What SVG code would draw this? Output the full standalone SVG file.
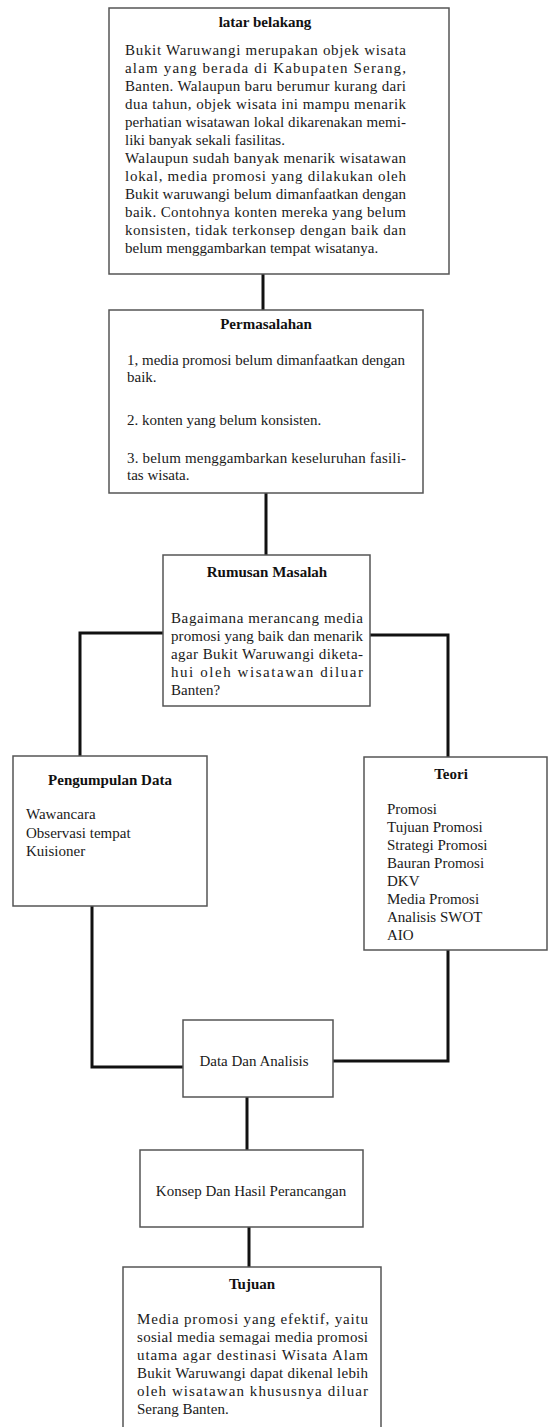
<svg xmlns="http://www.w3.org/2000/svg" width="548" height="1427" viewBox="0 0 548 1427">
<style>
.box{fill:#fff;stroke:#555;stroke-width:1.5}
.conn{fill:none;stroke:#111;stroke-width:3;stroke-linejoin:miter}
.t{font-family:"Liberation Serif","Times New Roman",serif;font-size:15px;fill:#1a1a1a}
.h{font-family:"Liberation Serif","Times New Roman",serif;font-size:15px;font-weight:bold;fill:#111;text-anchor:middle}
.c{text-anchor:middle}
</style>
<rect width="548" height="1427" fill="#fff"/>
<g id="connectors">
<path class="conn" d="M263,274 V310"/>
<path class="conn" d="M266,493 V555"/>
<path class="conn" d="M163,633 H80 V756"/>
<path class="conn" d="M370,635 H448 V757"/>
<path class="conn" d="M92,906 V1067 H183"/>
<path class="conn" d="M448,950 V1061 H333"/>
<path class="conn" d="M247,1097 V1150"/>
<path class="conn" d="M249,1227 V1267"/>
</g>
<g id="latar-belakang">
<rect class="box" x="109" y="8" width="340" height="266"/>
<text class="h" x="265" y="27">latar belakang</text>
<g class="t">
<text x="125" y="55" textLength="281" lengthAdjust="spacing">Bukit Waruwangi merupakan objek wisata</text>
<text x="125" y="73" textLength="281" lengthAdjust="spacing">alam yang berada di Kabupaten Serang,</text>
<text x="125" y="91" textLength="281" lengthAdjust="spacing">Banten. Walaupun baru berumur kurang dari</text>
<text x="125" y="109" textLength="281" lengthAdjust="spacing">dua tahun, objek wisata ini mampu menarik</text>
<text x="125" y="127" textLength="281" lengthAdjust="spacing">perhatian wisatawan lokal dikarenakan memi-</text>
<text x="125" y="145">liki banyak sekali fasilitas.</text>
<text x="125" y="163" textLength="281" lengthAdjust="spacing">Walaupun sudah banyak menarik wisatawan</text>
<text x="125" y="181" textLength="281" lengthAdjust="spacing">lokal, media promosi yang dilakukan oleh</text>
<text x="125" y="199" textLength="281" lengthAdjust="spacing">Bukit waruwangi belum dimanfaatkan dengan</text>
<text x="125" y="217" textLength="281" lengthAdjust="spacing">baik. Contohnya konten mereka yang belum</text>
<text x="125" y="235" textLength="281" lengthAdjust="spacing">konsisten, tidak terkonsep dengan baik dan</text>
<text x="125" y="253">belum menggambarkan tempat wisatanya.</text>
</g>
</g>
<g id="permasalahan">
<rect class="box" x="109" y="310" width="314" height="183"/>
<text class="h" x="266" y="329">Permasalahan</text>
<g class="t">
<text x="127" y="365" textLength="278" lengthAdjust="spacing">1, media promosi belum dimanfaatkan dengan</text>
<text x="127" y="382">baik.</text>
<text x="127" y="425">2. konten yang belum konsisten.</text>
<text x="127" y="463" textLength="279" lengthAdjust="spacing">3. belum menggambarkan keseluruhan fasili-</text>
<text x="127" y="480">tas wisata.</text>
</g>
</g>
<g id="rumusan-masalah">
<rect class="box" x="163" y="555" width="207" height="151"/>
<text class="h" x="267" y="577">Rumusan Masalah</text>
<g class="t">
<text x="171" y="623" textLength="192" lengthAdjust="spacing">Bagaimana merancang media</text>
<text x="171" y="641" textLength="192" lengthAdjust="spacing">promosi yang baik dan menarik</text>
<text x="171" y="659" textLength="192" lengthAdjust="spacing">agar Bukit Waruwangi diketa-</text>
<text x="171" y="677" textLength="192" lengthAdjust="spacing">hui oleh wisatawan diluar</text>
<text x="171" y="695">Banten?</text>
</g>
</g>
<g id="pengumpulan-data">
<rect class="box" x="13" y="756" width="194" height="150"/>
<text class="h" x="110" y="785">Pengumpulan Data</text>
<g class="t">
<text x="26" y="819">Wawancara</text>
<text x="26" y="838">Observasi tempat</text>
<text x="26" y="856">Kuisioner</text>
</g>
</g>
<g id="teori">
<rect class="box" x="364" y="757" width="183" height="193"/>
<text class="h" x="451" y="779">Teori</text>
<g class="t">
<text x="387" y="814">Promosi</text>
<text x="387" y="832">Tujuan Promosi</text>
<text x="387" y="850">Strategi Promosi</text>
<text x="387" y="868">Bauran Promosi</text>
<text x="387" y="886">DKV</text>
<text x="387" y="904">Media Promosi</text>
<text x="387" y="922">Analisis SWOT</text>
<text x="387" y="940">AIO</text>
</g>
</g>
<g id="data-dan-analisis">
<rect class="box" x="183" y="1020" width="150" height="77"/>
<text class="t c" x="254" y="1066">Data Dan Analisis</text>
</g>
<g id="konsep">
<rect class="box" x="140" y="1150" width="223" height="77"/>
<text class="t c" x="251" y="1196">Konsep Dan Hasil Perancangan</text>
</g>
<g id="tujuan">
<rect class="box" x="123" y="1267" width="258" height="180"/>
<text class="h" x="252" y="1289">Tujuan</text>
<g class="t">
<text x="137" y="1324" textLength="231" lengthAdjust="spacing">Media promosi yang efektif, yaitu</text>
<text x="137" y="1342" textLength="231" lengthAdjust="spacing">sosial media semagai media promosi</text>
<text x="137" y="1360" textLength="231" lengthAdjust="spacing">utama agar destinasi Wisata Alam</text>
<text x="137" y="1378" textLength="231" lengthAdjust="spacing">Bukit Waruwangi dapat dikenal lebih</text>
<text x="137" y="1396" textLength="231" lengthAdjust="spacing">oleh wisatawan khususnya diluar</text>
<text x="137" y="1414">Serang Banten.</text>
</g>
</g>
</svg>
